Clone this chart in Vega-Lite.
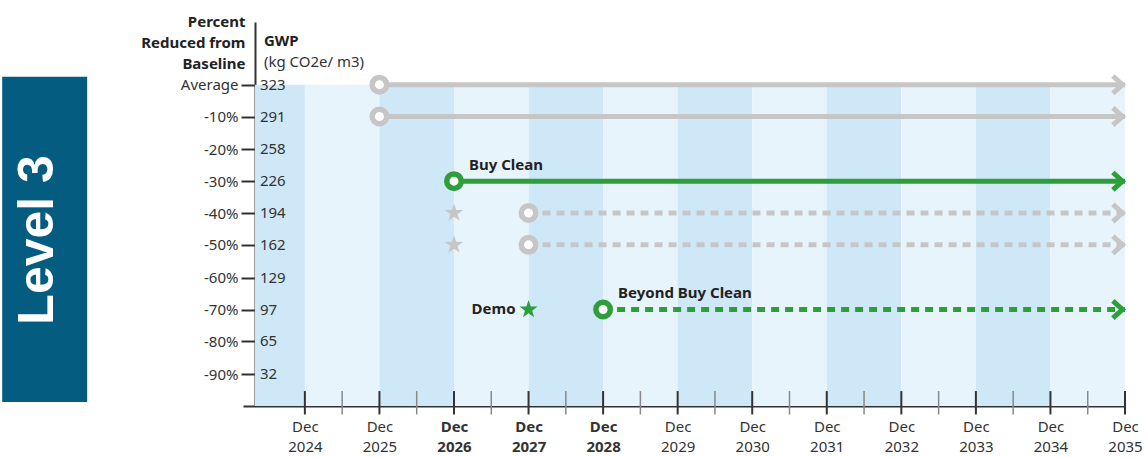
{
  "$schema": "https://vega.github.io/schema/vega-lite/v6.json",
  "padding": {"left": 2, "top": 14, "right": 0, "bottom": 0},
  "config": {"font": "Noto Sans", "view": {"stroke": null}, "axis": {"grid": false}},
  "datasets": {
    "badge": [{"level": "Level 3"}],
    "gwpHead": [{"label": "GWP"}],
    "unitHead": [{"label": "(kg CO2e/ m3)"}],
    "bands": [
      {"s": 2023.33, "e": 2024, "shade": "dark"},
      {"s": 2024, "e": 2025, "shade": "light"},
      {"s": 2025, "e": 2026, "shade": "dark"},
      {"s": 2026, "e": 2027, "shade": "light"},
      {"s": 2027, "e": 2028, "shade": "dark"},
      {"s": 2028, "e": 2029, "shade": "light"},
      {"s": 2029, "e": 2030, "shade": "dark"},
      {"s": 2030, "e": 2031, "shade": "light"},
      {"s": 2031, "e": 2032, "shade": "dark"},
      {"s": 2032, "e": 2033, "shade": "light"},
      {"s": 2033, "e": 2034, "shade": "dark"},
      {"s": 2034, "e": 2035, "shade": "light"}
    ],
    "levels": [
      {"gwp": 323}, {"gwp": 291}, {"gwp": 258}, {"gwp": 226}, {"gwp": 194},
      {"gwp": 162}, {"gwp": 129}, {"gwp": 97}, {"gwp": 65}, {"gwp": 32}
    ],
    "majorTicks": [
      {"t": 2024}, {"t": 2025}, {"t": 2026}, {"t": 2027}, {"t": 2028}, {"t": 2029},
      {"t": 2030}, {"t": 2031}, {"t": 2032}, {"t": 2033}, {"t": 2034}, {"t": 2035}
    ],
    "minorTicks": [
      {"t": 2024.5}, {"t": 2025.5}, {"t": 2026.5}, {"t": 2027.5}, {"t": 2028.5}, {"t": 2029.5},
      {"t": 2030.5}, {"t": 2031.5}, {"t": 2032.5}, {"t": 2033.5}, {"t": 2034.5}
    ],
    "paths": [
      {"start": 2025, "end": 2035, "gwp": 323, "group": "grey", "style": "solid"},
      {"start": 2025, "end": 2035, "gwp": 291, "group": "grey", "style": "solid"},
      {"start": 2026, "end": 2035, "gwp": 226, "group": "green", "style": "solid"},
      {"start": 2027, "end": 2035, "gwp": 194, "group": "grey", "style": "dashed"},
      {"start": 2027, "end": 2035, "gwp": 162, "group": "grey", "style": "dashed"},
      {"start": 2028, "end": 2035, "gwp": 97, "group": "green", "style": "dashed"}
    ],
    "stars": [
      {"year": 2026, "gwp": 194, "group": "grey"},
      {"year": 2026, "gwp": 162, "group": "grey"},
      {"year": 2027, "gwp": 97, "group": "green"}
    ],
    "notes": [
      {"year": 2026, "gwp": 226, "label": "Buy Clean"},
      {"year": 2028, "gwp": 97, "label": "Beyond Buy Clean"}
    ],
    "demo": [{"year": 2027, "gwp": 97, "label": "Demo"}]
  },
  "width": 882,
  "height": 384,
  "layer": [
    {
      "data": {"name": "bands"},
      "mark": {"type": "rect"},
      "encoding": {
        "x": {
          "field": "s", "type": "quantitative",
          "scale": {"domain": [2023.17, 2035], "nice": false, "zero": false},
          "axis": {
            "orient": "bottom", "title": null,
            "values": [2024, 2025, 2026, 2027, 2028, 2029, 2030, 2031, 2032, 2033, 2034, 2035],
            "labelExpr": "['Dec', '' + datum.value]",
            "ticks": false, "domain": true, "domainColor": "#333", "domainWidth": 2,
            "labelPadding": 13, "labelLineHeight": 20, "labelFontSize": 15, "labelColor": "#333",
            "labelFlush": false, "labelOverlap": false,
            "labelFontWeight": {"condition": {"test": "datum.value >= 2026 && datum.value <= 2028", "value": "bold"}, "value": "normal"}
          }
        },
        "x2": {"field": "e"},
        "y": {
          "datum": 0, "type": "quantitative",
          "scale": {"domain": [0, 386], "nice": false, "zero": false},
          "axis": {
            "orient": "left", "offset": -12,
            "values": [323, 291, 258, 226, 194, 162, 129, 97, 65, 32],
            "labelExpr": "datum.value >= 323 ? 'Average' : '-' + round((323 - datum.value) / 32.3) * 10 + '%'",
            "tickSize": 14, "tickWidth": 2, "tickColor": "#333",
            "domainColor": "#333", "domainWidth": 2,
            "labelPadding": 3, "labelFontSize": 15, "labelColor": "#333",
            "title": ["Percent", "Reduced from", "Baseline"],
            "titleAngle": 0, "titleAlign": "right", "titleBaseline": "top",
            "titleX": -10, "titleY": -8, "titleLineHeight": 21,
            "titleFontWeight": "bold", "titleFontSize": 15, "titleColor": "#222"
          }
        },
        "y2": {"datum": 323},
        "fill": {"field": "shade", "type": "nominal", "scale": {"domain": ["dark", "light"], "range": ["#cfe8f7", "#e7f4fc"]}, "legend": null}
      }
    },
    {
      "data": {"name": "badge"},
      "mark": {"type": "rect", "color": "#045d80", "clip": false},
      "encoding": {
        "x": {"datum": 2019.94, "type": "quantitative"},
        "x2": {"datum": 2021.08},
        "y": {"datum": 4, "type": "quantitative"},
        "y2": {"datum": 331}
      }
    },
    {
      "data": {"name": "badge"},
      "mark": {"type": "text", "angle": 270, "font": "Liberation Sans", "fontWeight": "bold", "fontSize": 50, "color": "white", "baseline": "alphabetic", "align": "center", "dy": 8.5},
      "encoding": {
        "x": {"datum": 2020.51, "type": "quantitative"},
        "y": {"datum": 167, "type": "quantitative"},
        "text": {"field": "level", "type": "nominal"}
      }
    },
    {
      "data": {"name": "gwpHead"},
      "mark": {"type": "text", "align": "left", "baseline": "middle", "dx": 9, "fontSize": 15, "fontWeight": "bold", "color": "#222"},
      "encoding": {
        "x": {"datum": 2023.33, "type": "quantitative"},
        "y": {"datum": 366.9, "type": "quantitative"},
        "text": {"field": "label", "type": "nominal"}
      }
    },
    {
      "data": {"name": "unitHead"},
      "mark": {"type": "text", "align": "left", "baseline": "middle", "dx": 9, "fontSize": 15, "color": "#333"},
      "encoding": {
        "x": {"datum": 2023.33, "type": "quantitative"},
        "y": {"datum": 345.8, "type": "quantitative"},
        "text": {"field": "label", "type": "nominal"}
      }
    },
    {
      "data": {"name": "majorTicks"},
      "mark": {"type": "rule", "color": "#333", "strokeWidth": 2},
      "encoding": {
        "x": {"field": "t", "type": "quantitative"},
        "y": {"datum": -8.5, "type": "quantitative"},
        "y2": {"datum": 15}
      }
    },
    {
      "data": {"name": "minorTicks"},
      "mark": {"type": "rule", "color": "#888", "strokeWidth": 1.5},
      "encoding": {
        "x": {"field": "t", "type": "quantitative"},
        "y": {"datum": -8.5, "type": "quantitative"},
        "y2": {"datum": 15}
      }
    },
    {
      "data": {"name": "levels"},
      "mark": {"type": "text", "align": "left", "baseline": "middle", "dx": 5, "fontSize": 15, "color": "#333"},
      "encoding": {
        "x": {"datum": 2023.33, "type": "quantitative"},
        "y": {"field": "gwp", "type": "quantitative"},
        "text": {"field": "gwp", "type": "nominal"}
      }
    },
    {
      "data": {"name": "paths"},
      "mark": {"type": "rule", "strokeWidth": 5, "strokeCap": "butt"},
      "encoding": {
        "x": {"field": "start", "type": "quantitative"},
        "x2": {"field": "end"},
        "y": {"field": "gwp", "type": "quantitative"},
        "color": {"field": "group", "type": "nominal", "scale": {"domain": ["grey", "green"], "range": ["#c6c6c6", "#2e9e3a"]}, "legend": null},
        "strokeDash": {"field": "style", "type": "nominal", "scale": {"domain": ["solid", "dashed"], "range": [[1, 0], [8, 6]]}, "legend": null}
      }
    },
    {
      "data": {"name": "paths"},
      "mark": {"type": "point", "shape": "circle", "filled": true, "fill": "white", "strokeWidth": 5.5, "size": 210, "opacity": 1},
      "encoding": {
        "x": {"field": "start", "type": "quantitative"},
        "y": {"field": "gwp", "type": "quantitative"},
        "stroke": {"field": "group", "type": "nominal", "scale": {"domain": ["grey", "green"], "range": ["#c6c6c6", "#2e9e3a"]}, "legend": null}
      }
    },
    {
      "data": {"name": "paths"},
      "mark": {"type": "point", "shape": "M-1.4,-1L-0.3,0L-1.4,1", "filled": false, "strokeWidth": 5, "size": 300, "opacity": 1},
      "encoding": {
        "x": {"field": "end", "type": "quantitative"},
        "y": {"field": "gwp", "type": "quantitative"},
        "stroke": {"field": "group", "type": "nominal", "scale": {"domain": ["grey", "green"], "range": ["#c6c6c6", "#2e9e3a"]}, "legend": null}
      }
    },
    {
      "data": {"name": "stars"},
      "mark": {"type": "point", "shape": "M0,-1L0.235,-0.324L0.951,-0.309L0.38,0.124L0.588,0.809L0,0.4L-0.588,0.809L-0.38,0.124L-0.951,-0.309L-0.235,-0.324Z", "filled": true, "size": 360, "opacity": 1},
      "encoding": {
        "x": {"field": "year", "type": "quantitative"},
        "y": {"field": "gwp", "type": "quantitative"},
        "color": {"field": "group", "type": "nominal", "scale": {"domain": ["grey", "green"], "range": ["#c6c6c6", "#2e9e3a"]}, "legend": null}
      }
    },
    {
      "data": {"name": "notes"},
      "mark": {"type": "text", "align": "left", "baseline": "middle", "dx": 15, "dy": -16.5, "fontSize": 15, "fontWeight": "bold", "color": "#222"},
      "encoding": {
        "x": {"field": "year", "type": "quantitative"},
        "y": {"field": "gwp", "type": "quantitative"},
        "text": {"field": "label", "type": "nominal"}
      }
    },
    {
      "data": {"name": "demo"},
      "mark": {"type": "text", "align": "right", "baseline": "middle", "dx": -13, "dy": -1, "fontSize": 15, "fontWeight": "bold", "color": "#222"},
      "encoding": {
        "x": {"field": "year", "type": "quantitative"},
        "y": {"field": "gwp", "type": "quantitative"},
        "text": {"field": "label", "type": "nominal"}
      }
    }
  ]
}
